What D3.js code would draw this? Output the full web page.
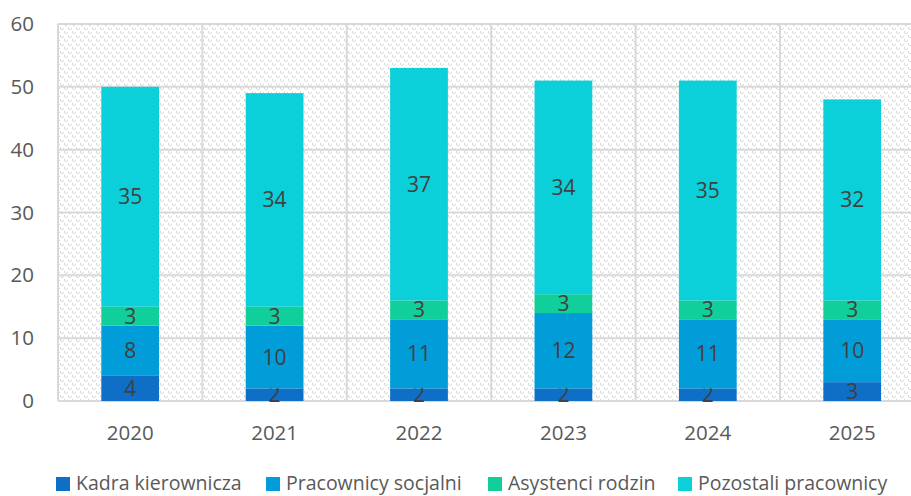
<!DOCTYPE html>
<html>
<head>
<meta charset="utf-8">
<script src="https://cdn.jsdelivr.net/npm/d3@7"></script>
<style>
    body { margin: 0; background: #fff; }
    text { font-family: "Open Sans", sans-serif; }
</style>
</head>
<body>
<svg id="chart" width="911" height="496"></svg>
<script>
//DATA
var years = ["2020", "2021", "2022", "2023", "2024", "2025"];
var seriesNames = ["Kadra kierownicza", "Pracownicy socjalni", "Asystenci rodzin", "Pozostali pracownicy"];
var kadra = [4, 2, 2, 2, 2, 3];
var socjalni = [8, 10, 11, 12, 11, 10];
var asystenci = [3, 3, 3, 3, 3, 3];
var pozostali = [35, 34, 37, 34, 35, 32];
var yTicks = [0, 10, 20, 30, 40, 50, 60];
var colors = ["#0F6FC6", "#009DD9", "#10CF9B", "#0BD0D9"];

var svg = d3.select("#chart");

//table for the stack layout
var rows = years.map(function (y, i) {
    return { year: y, s0: kadra[i], s1: socjalni[i], s2: asystenci[i], s3: pozostali[i] };
});
var keys = ["s0", "s1", "s2", "s3"];
var stacked = d3.stack().keys(keys)(rows);

/* SCALES */
// plot runs past the right edge of the picture, like in the original
var x = d3.scaleBand().domain(years).range([58, 924.4]).paddingInner(0.6).paddingOuter(0.3);
var y = d3.scaleLinear().domain([0, 60]).range([401, 24]);

/* BACKGROUND PATTERN */
var defs = svg.append("defs");
var pat = defs.append("pattern")
    .attr("id", "hatch")
    .attr("patternUnits", "userSpaceOnUse")
    .attr("width", 8).attr("height", 8);
pat.append("rect").attr("width", 8).attr("height", 8).attr("fill", "#fff");
[[0, 0], [1, 1], [2, 1], [4, 4], [5, 5], [6, 5], [3, 0], [7, 4], [0, 7], [4, 3]].forEach(function (p) {
    pat.append("rect").attr("x", p[0]).attr("y", p[1])
        .attr("width", 1).attr("height", 1).attr("fill", "#d6d6d6");
});

svg.append("rect")
    .attr("x", 58).attr("y", y(60))
    .attr("width", 924.4 - 58).attr("height", y(0) - y(60))
    .attr("fill", "url(#hatch)");

/* GRID */
svg.append("g").selectAll("line")
    .data(yTicks).enter()
    .append("line")
    .attr("x1", 58).attr("x2", 924.4)
    .attr("y1", function (d) { return y(d); })
    .attr("y2", function (d) { return y(d); })
    .attr("stroke", "#d9d9d9").attr("stroke-width", 2);

var step = x.step();
svg.append("g").selectAll("line")
    .data(years).enter()
    .append("line")
    .attr("x1", function (d) { return x(d) + x.bandwidth() / 2 - step / 2; })
    .attr("x2", function (d) { return x(d) + x.bandwidth() / 2 - step / 2; })
    .attr("y1", y(60)).attr("y2", y(0))
    .attr("stroke", "#d9d9d9").attr("stroke-width", 2);

/* BARS */
var layer = svg.append("g").selectAll("g")
    .data(stacked).enter()
    .append("g")
    .attr("fill", function (d, i) { return colors[i]; });

layer.selectAll("rect")
    .data(function (d) { return d; }).enter()
    .append("rect")
    .attr("x", function (d) { return x(d.data.year); })
    .attr("width", x.bandwidth())
    .attr("y", function (d) { return y(d[1]); })
    .attr("height", function (d) { return y(d[0]) - y(d[1]); });

/* DATA LABELS */
layer.selectAll("text")
    .data(function (d) { return d; }).enter()
    .append("text")
    .attr("x", function (d) { return x(d.data.year) + x.bandwidth() / 2; })
    .attr("y", function (d) { return (y(d[0]) + y(d[1])) / 2; })
    .attr("dy", "0.36em")
    .attr("text-anchor", "middle")
    .attr("fill", "#404040")
    .attr("font-size", 21)
    .text(function (d) { return d[1] - d[0]; });

/* AXES */
var yAxis = svg.append("g")
    .attr("transform", "translate(58,0)")
    .call(d3.axisLeft(y).tickValues(yTicks).tickSize(0).tickPadding(24));
yAxis.select(".domain").remove();
yAxis.selectAll("text").attr("font-size", 20.5).attr("fill", "#595959")
    .style("font-family", "'Open Sans', sans-serif");

var xAxis = svg.append("g")
    .attr("transform", "translate(0," + y(0) + ")")
    .call(d3.axisBottom(x).tickSize(0).tickPadding(24));
xAxis.select(".domain").remove();
xAxis.selectAll("text").attr("font-size", 20.5).attr("fill", "#595959")
    .style("font-family", "'Open Sans', sans-serif");

/* LEGEND */
// left edge of each legend marker
var legendX = [56, 266, 488, 678];
var legend = svg.append("g");
seriesNames.forEach(function (name, i) {
    var item = legend.append("g").attr("transform", "translate(" + legendX[i] + ",0)");
    item.append("rect").attr("x", 0).attr("y", 477).attr("width", 14).attr("height", 14)
        .attr("fill", colors[i]);
    item.append("text").attr("x", 20).attr("y", 490)
        .attr("font-size", 19.5).attr("fill", "#595959").text(name);
});
</script>
</body>
</html>
